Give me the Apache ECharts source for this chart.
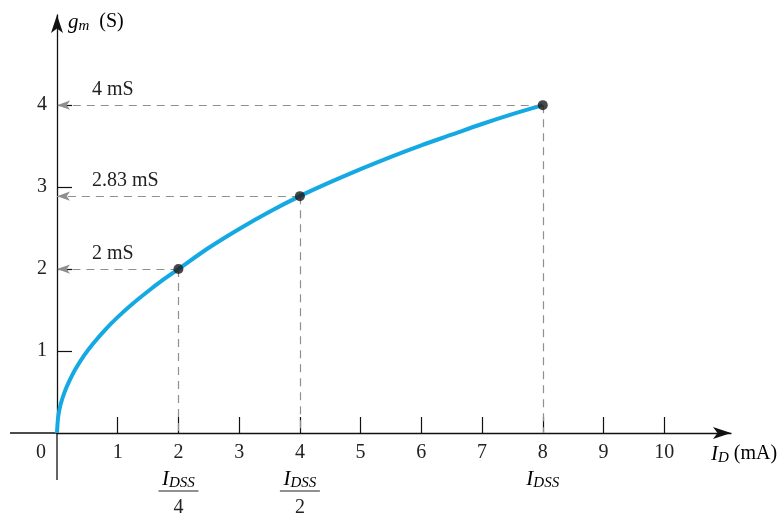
<!DOCTYPE html>
<html>
<head>
<meta charset="utf-8">
<script src="https://cdn.jsdelivr.net/npm/echarts@6/dist/echarts.min.js"></script>
<style>html,body{margin:0;padding:0;background:#fff}#c{width:782px;height:515px}</style>
</head>
<body>
<div id="c"></div>
<script>
// ---- data ----
var curveX = [0, 0.02, 0.06, 0.12, 0.2, 0.3, 0.45, 0.6, 0.8, 1, 1.25, 1.5, 1.75, 2, 2.5, 3, 3.5, 4, 4.5, 5, 5.5, 6, 6.5, 7, 7.5, 8];
var curveY = [0, 0.2, 0.35, 0.49, 0.63, 0.775, 0.95, 1.095, 1.265, 1.414, 1.58, 1.73, 1.87, 2.0, 2.26, 2.49, 2.70, 2.89, 3.06, 3.22, 3.37, 3.51, 3.64, 3.77, 3.89, 4.0];
var markX = [2, 4, 8];
var markY = [2, 2.89, 4];
var markText = ['2 mS', '2.83 mS', '4 mS'];
var xTicks = [1, 2, 3, 4, 5, 6, 7, 8, 9, 10];
var yTicks = [1, 2, 3, 4];
var idssX = [2, 4, 8];
var idssDen = ['4', '2', ''];

var SERIF = '"Liberation Serif","DejaVu Serif",serif';
var DASH = '#8f8f8f';
var INK = '#222';
var FS = 20;

var chart = echarts.init(document.getElementById('c'));

var curveData = curveX.map(function (x, i) { return [x, curveY[i]]; });
var pts = markX.map(function (x, i) { return [x, markY[i]]; });

var mlData = [];
markX.forEach(function (x, i) {
  mlData.push([{ coord: [x, markY[i]], symbol: 'none' }, { coord: [0, markY[i]], symbol: 'arrow', symbolSize: [7, 13] }]);
  mlData.push([{ coord: [x, markY[i]], symbol: 'none' }, { coord: [x, 0], symbol: 'none' }]);
});

chart.setOption({
  animation: false,
  backgroundColor: '#fff',
  grid: { left: 57, right: 51, top: 15, bottom: 82, containLabel: false, outerBoundsMode: 'none' },
  xAxis: {
    type: 'value', min: 0, max: 11.1,
    splitLine: { show: false },
    axisLine: { onZero: false, lineStyle: { color: '#111', width: 1.3 }, symbol: ['none', 'arrow'], symbolSize: [9, 18] },
    axisTick: { inside: true, length: 16, customValues: xTicks, lineStyle: { color: '#111', width: 1.2 } },
    axisLabel: { customValues: xTicks, fontFamily: SERIF, fontSize: FS, color: INK, margin: 10 }
  },
  yAxis: {
    type: 'value', min: 0, max: 5.1,
    splitLine: { show: false },
    axisLine: { onZero: false, lineStyle: { color: '#111', width: 1.3 }, symbol: ['none', 'arrow'], symbolSize: [9, 18] },
    axisTick: { inside: true, length: 15, customValues: yTicks, lineStyle: { color: '#111', width: 1.2 } },
    axisLabel: { customValues: yTicks, fontFamily: SERIF, fontSize: FS, color: INK, margin: 10 }
  },
  series: [
    {
      type: 'line', data: curveData, smooth: 0.3, showSymbol: false, z: 3, clip: false,
      lineStyle: { color: '#14a9e3', width: 4 },
      markLine: {
        silent: true, animation: false, label: { show: false },
        lineStyle: { color: DASH, type: [8, 6], width: 1.2 },
        itemStyle: { color: DASH },
        data: mlData
      }
    },
    {
      type: 'scatter', data: pts, symbolSize: 10, z: 5,
      itemStyle: { color: '#1a1a1a' }
    }
  ]
});

function px(x, y) { return chart.convertToPixel({ gridIndex: 0 }, [x, y]); }

var g = [];
var o = px(0, 0);
// axis extensions past the origin
g.push({ type: 'line', shape: { x1: 10, y1: o[1], x2: o[0], y2: o[1] }, style: { stroke: '#111', lineWidth: 1.3 } });
g.push({ type: 'line', shape: { x1: o[0], y1: o[1], x2: o[0], y2: 480 }, style: { stroke: '#111', lineWidth: 1.3 } });

g.push({ type: 'text', style: { text: '0', x: o[0] - 16, y: o[1] + 20, font: FS + 'px ' + SERIF, fill: INK, align: 'center', verticalAlign: 'middle' } });

markX.forEach(function (x, i) {
  var p = px(0, markY[i]);
  g.push({ type: 'text', style: { text: markText[i], x: p[0] + 35, y: p[1] - 15, font: FS + 'px ' + SERIF, fill: INK, align: 'left', verticalAlign: 'middle' } });
});

var richIdss = {
  i: { fontFamily: SERIF, fontStyle: 'italic', fontSize: 21, color: INK },
  s: { fontFamily: SERIF, fontStyle: 'italic', fontSize: 15, color: INK, padding: [9, 0, 0, 0] }
};

idssX.forEach(function (x, i) {
  var p = px(x, 0);
  g.push({ type: 'text', style: { text: '{i|I}{s|DSS}', rich: richIdss, x: p[0], y: o[1] + 46, align: 'center', verticalAlign: 'middle' } });
  if (idssDen[i]) {
    g.push({ type: 'line', shape: { x1: p[0] - 20, y1: o[1] + 58, x2: p[0] + 20, y2: o[1] + 58 }, style: { stroke: INK, lineWidth: 1.2 } });
    g.push({ type: 'text', style: { text: idssDen[i], x: p[0], y: o[1] + 75, font: FS + 'px ' + SERIF, fill: INK, align: 'center', verticalAlign: 'middle' } });
  }
});

// axis names
g.push({ type: 'text', style: { text: '{i|g}{s|m}{n|  (S)}', rich: {
  i: { fontFamily: SERIF, fontStyle: 'italic', fontSize: 21, color: INK },
  s: { fontFamily: SERIF, fontStyle: 'italic', fontSize: 15, color: INK, padding: [9, 0, 0, 0] },
  n: { fontFamily: SERIF, fontSize: FS, color: INK }
}, x: o[0] + 11, y: 22, align: 'left', verticalAlign: 'middle' } });

g.push({ type: 'text', style: { text: '{i|I}{s|D}{n| (mA)}', rich: {
  i: { fontFamily: SERIF, fontStyle: 'italic', fontSize: 21, color: INK },
  s: { fontFamily: SERIF, fontStyle: 'italic', fontSize: 15, color: INK, padding: [9, 0, 0, 0] },
  n: { fontFamily: SERIF, fontSize: FS, color: INK }
}, x: 711, y: o[1] + 21, align: 'left', verticalAlign: 'middle' } });

chart.setOption({ graphic: g });
</script>
</body>
</html>
